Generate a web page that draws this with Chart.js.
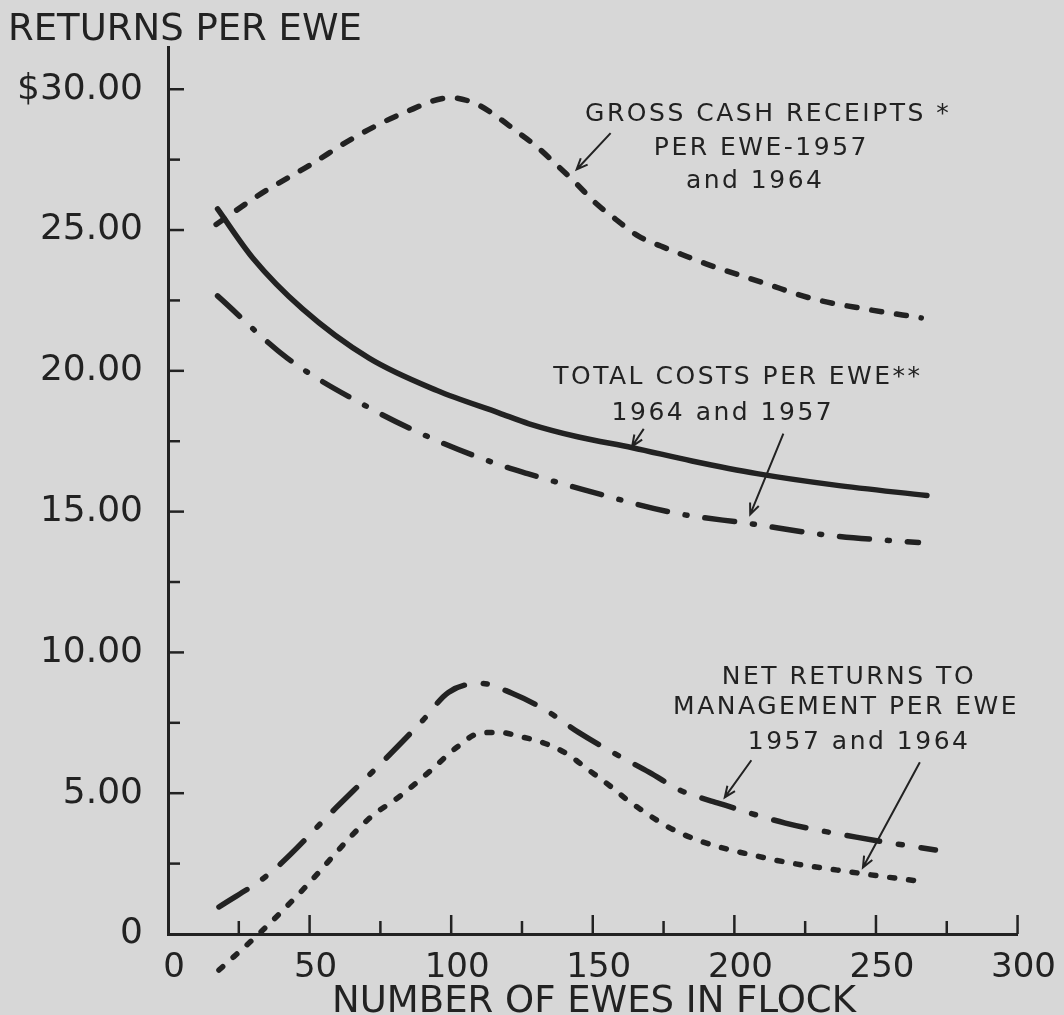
<!DOCTYPE html>
<html><head><meta charset="utf-8">
<script src="https://cdn.jsdelivr.net/npm/chart.js@4/dist/chart.umd.min.js"></script>
<style>html,body{margin:0;padding:0;background:#d7d7d7;}#wrap{width:1064px;height:1015px;}</style>
</head><body><div id="wrap"><canvas id="c" width="1064" height="1015"></canvas></div>
<script>
// ---- data ----
const grossX = [17, 33, 50, 66, 83, 100, 109, 116, 123, 130, 137, 144, 151, 158, 166, 174, 181, 190, 211, 228, 246, 266];
const grossY = [25.2, 26.3, 27.3, 28.3, 29.15, 29.7, 29.47, 29.04, 28.51, 27.98, 27.34, 26.67, 25.96, 25.39, 24.79, 24.43, 24.15, 23.8, 23.1, 22.55, 22.2, 21.88];

const cost64X = [17.5, 30, 47.5, 71, 95, 117, 127.5, 145, 164, 185, 208, 235, 268];
const cost64Y = [25.75, 24.0, 22.2, 20.45, 19.3, 18.5, 18.12, 17.65, 17.27, 16.8, 16.35, 15.95, 15.57];

const cost57X = [17.5, 42, 71, 95, 118, 127, 146, 179, 205, 234, 265];
const cost57Y = [22.66, 20.46, 18.69, 17.52, 16.63, 16.35, 15.8, 14.95, 14.58, 14.15, 13.9];

const net57X = [18, 36, 59.5, 77, 90, 99, 110.6, 121.5, 133.5, 145, 157, 170, 181, 194, 218, 243, 271];
const net57Y = [0.96, 2.16, 4.5, 6.24, 7.59, 8.58, 8.9, 8.55, 7.94, 7.16, 6.45, 5.74, 5.1, 4.66, 3.94, 3.44, 2.98];

const net64X = [18, 33.5, 47.5, 71, 82, 92, 102, 110, 117, 124, 132, 140.5, 148.6, 156.7, 163, 181, 211, 244, 268];
const net64Y = [-1.28, 0.14, 1.56, 4.1, 4.9, 5.74, 6.63, 7.13, 7.16, 7.02, 6.81, 6.42, 5.82, 5.21, 4.7, 3.58, 2.7, 2.16, 1.84];

const yTickValues = [0, 5, 10, 15, 20, 25, 30];
const yTickLabels = ['0', '5.00', '10.00', '15.00', '20.00', '25.00', '$30.00'];
const xTickValues = [0, 50, 100, 150, 200, 250, 300];
const xTickLabels = ['0', '50', '100', '150', '200', '250', '300'];

const yTitle = 'RETURNS PER EWE';
const xTitle = 'NUMBER OF EWES IN FLOCK';
const grossText = ['GROSS CASH RECEIPTS *', 'PER EWE-1957', 'and 1964'];
const costText = ['TOTAL COSTS PER EWE**', '1964 and 1957'];
const netText = ['NET RETURNS TO', 'MANAGEMENT PER EWE', '1957 and 1964'];

// ---- layout of annotations (data coordinates) ----
const notes = [
  {text: grossText, at: [[211.6, 29.11], [209.2, 27.9], [207, 26.74]],
   arrows: [[[156.3, 28.44], [144.3, 27.15]]]},
  {text: costText, at: [[200.9, 19.75], [195.6, 18.48]],
   arrows: [[[168.0, 17.94], [163.9, 17.32]], [[217.3, 17.77], [205.6, 14.9]]]},
  {text: netText, at: [[240.1, 9.11], [239.1, 8.05], [243.7, 6.81]],
   arrows: [[[206, 6.17], [196.6, 4.85]], [[265.5, 6.10], [245.4, 2.36]]]}
];

const INK = '#222222';
const BG = '#d7d7d7';
const FONT = '"DejaVu Sans", sans-serif';

const pts = (xs, ys) => xs.map((x, i) => ({x, y: ys[i]}));

const bgPlugin = {
  id: 'bg',
  beforeDraw(chart) {
    const c = chart.ctx; c.save(); c.fillStyle = BG; c.fillRect(0, 0, chart.width, chart.height); c.restore();
  }
};

const decoPlugin = {
  id: 'deco',
  afterDraw(chart) {
    const c = chart.ctx, xs = chart.scales.x, ys = chart.scales.y, ca = chart.chartArea;
    c.save();
    c.strokeStyle = INK; c.fillStyle = INK; c.lineCap = 'butt';
    c.lineWidth = 2.5;
    ys.ticks.forEach(t => {
      if (t.value === 0) return;
      const p = ys.getPixelForValue(t.value);
      const len = (t.value % 5 === 0) ? 16 : 12;
      c.beginPath(); c.moveTo(ca.left, p); c.lineTo(ca.left + len, p); c.stroke();
    });
    xs.ticks.forEach(t => {
      if (t.value === 0) return;
      const p = xs.getPixelForValue(t.value);
      const len = (t.value % 50 === 0) ? 19 : 13;
      c.beginPath(); c.moveTo(p, ca.bottom); c.lineTo(p, ca.bottom - len); c.stroke();
    });
    c.font = '37px ' + FONT; c.textBaseline = 'alphabetic';
    c.textAlign = 'left'; c.fillText(yTitle, 8, 40);
    c.textAlign = 'center'; c.fillText(xTitle, 594, 1012);
    c.font = '25px ' + FONT; c.letterSpacing = '2.5px';
    c.textAlign = 'center'; c.textBaseline = 'middle';
    notes.forEach(n => {
      n.text.forEach((s, i) => {
        c.fillText(s, xs.getPixelForValue(n.at[i][0]) + 1, ys.getPixelForValue(n.at[i][1]));
      });
      c.lineWidth = 2;
      n.arrows.forEach(a => {
        const x0 = xs.getPixelForValue(a[0][0]), y0 = ys.getPixelForValue(a[0][1]);
        const x1 = xs.getPixelForValue(a[1][0]), y1 = ys.getPixelForValue(a[1][1]);
        const ang = Math.atan2(y1 - y0, x1 - x0), h = 12, sp = 0.4;
        c.beginPath(); c.moveTo(x0, y0); c.lineTo(x1, y1);
        c.moveTo(x1 - h * Math.cos(ang - sp), y1 - h * Math.sin(ang - sp));
        c.lineTo(x1, y1);
        c.lineTo(x1 - h * Math.cos(ang + sp), y1 - h * Math.sin(ang + sp));
        c.stroke();
      });
    });
    c.restore();
  }
};

const common = {borderColor: INK, backgroundColor: INK, pointRadius: 0, borderWidth: 5.5,
  borderCapStyle: 'round', cubicInterpolationMode: 'monotone', fill: false, clip: false};

new Chart(document.getElementById('c'), {
  type: 'line',
  data: {datasets: [
    Object.assign({label: 'Gross cash receipts', data: pts(grossX, grossY), borderDash: [10, 15]}, common),
    Object.assign({label: 'Total costs 1964', data: pts(cost64X, cost64Y), borderDash: []}, common),
    Object.assign({label: 'Total costs 1957', data: pts(cost57X, cost57Y), borderDash: [30, 18, 2, 18]}, common),
    Object.assign({label: 'Net returns 1957', data: pts(net57X, net57Y), borderDash: [33, 19, 4, 19]}, common),
    Object.assign({label: 'Net returns 1964', data: pts(net64X, net64Y), borderDash: [5, 14]}, common)
  ]},
  options: {
    responsive: false, animation: false, devicePixelRatio: 1,
    layout: {padding: {left: 0, top: 47, right: 44, bottom: 0}},
    plugins: {legend: {display: false}, tooltip: {enabled: false}},
    scales: {
      x: {type: 'linear', min: 0, max: 300,
        grid: {display: true, drawOnChartArea: false, drawTicks: false},
        border: {display: true, color: INK, width: 3},
        afterBuildTicks: s => { s.ticks = []; for (let v = 0; v <= 300; v += 25) s.ticks.push({value: v}); },
        afterFit: s => { s.height = 81; },
        ticks: {padding: 14, labelOffset: 6, color: INK, font: {family: FONT, size: 34}, maxRotation: 0, autoSkip: false,
          callback: v => { const i = xTickValues.indexOf(v); return i >= 0 ? xTickLabels[i] : ''; }}
      },
      y: {type: 'linear', min: 0, max: 31.5,
        grid: {display: true, drawOnChartArea: false, drawTicks: false},
        border: {display: true, color: INK, width: 3},
        afterBuildTicks: s => { s.ticks = []; for (let v = 0; v <= 30; v += 2.5) s.ticks.push({value: v}); },
        afterFit: s => { s.width = 168; },
        ticks: {padding: 25, color: INK, font: {family: FONT, size: 36}, autoSkip: false,
          callback: v => { const i = yTickValues.indexOf(v); return i >= 0 ? yTickLabels[i] : ''; }}
      }
    }
  },
  plugins: [bgPlugin, decoPlugin]
});
</script></body></html>
